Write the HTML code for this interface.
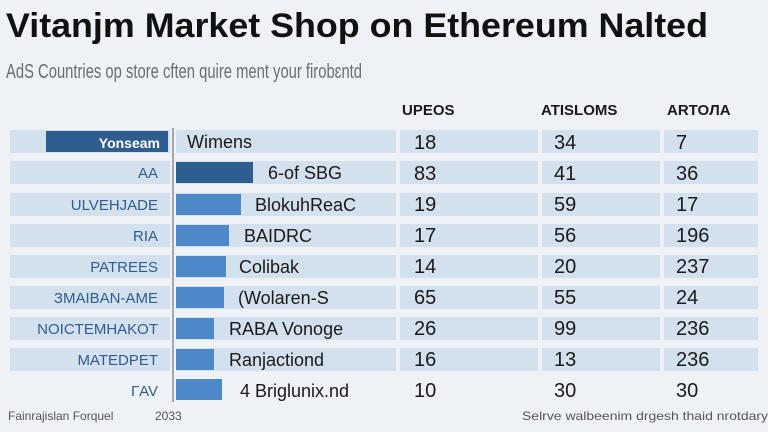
<!DOCTYPE html>
<html><head><meta charset="utf-8"><style>
html,body{margin:0;padding:0;background:#eef2f6;}
svg{display:block;font-family:"Liberation Sans",sans-serif;}
</style></head><body>
<svg width="768" height="432" viewBox="0 0 768 432">
<rect width="768" height="432" fill="#eef2f6"/>
<text x="6" y="37" font-size="34" font-weight="bold" fill="#111" textLength="702" lengthAdjust="spacingAndGlyphs">Vitanjm Market Shop on Ethereum Nalted</text>
<text x="6" y="78" font-size="20" fill="#6a6e74" textLength="356" lengthAdjust="spacingAndGlyphs">AdS Countries op store cften quire ment your firobɛntd</text>
<g font-size="15" font-weight="bold" fill="#1a1a1a">
<text x="402" y="115">UPEOS</text>
<text x="541" y="115">ATISLOMS</text>
<text x="667" y="115">ARTOЛA</text>
</g>
<g fill="#d3e0ee">
<rect x="10" y="130" width="160" height="23"/><rect x="176" y="130" width="220" height="23"/><rect x="400" y="130" width="138" height="23"/><rect x="542" y="130" width="118" height="23"/><rect x="664" y="130" width="94" height="23"/>
<rect x="10" y="161" width="160" height="23"/><rect x="176" y="161" width="220" height="23"/><rect x="400" y="161" width="138" height="23"/><rect x="542" y="161" width="118" height="23"/><rect x="664" y="161" width="94" height="23"/>
<rect x="10" y="193" width="160" height="23"/><rect x="176" y="193" width="220" height="23"/><rect x="400" y="193" width="138" height="23"/><rect x="542" y="193" width="118" height="23"/><rect x="664" y="193" width="94" height="23"/>
<rect x="10" y="224" width="160" height="23"/><rect x="176" y="224" width="220" height="23"/><rect x="400" y="224" width="138" height="23"/><rect x="542" y="224" width="118" height="23"/><rect x="664" y="224" width="94" height="23"/>
<rect x="10" y="255" width="160" height="23"/><rect x="176" y="255" width="220" height="23"/><rect x="400" y="255" width="138" height="23"/><rect x="542" y="255" width="118" height="23"/><rect x="664" y="255" width="94" height="23"/>
<rect x="10" y="286" width="160" height="23"/><rect x="176" y="286" width="220" height="23"/><rect x="400" y="286" width="138" height="23"/><rect x="542" y="286" width="118" height="23"/><rect x="664" y="286" width="94" height="23"/>
<rect x="10" y="317" width="160" height="23"/><rect x="176" y="317" width="220" height="23"/><rect x="400" y="317" width="138" height="23"/><rect x="542" y="317" width="118" height="23"/><rect x="664" y="317" width="94" height="23"/>
<rect x="10" y="348" width="160" height="23"/><rect x="176" y="348" width="220" height="23"/><rect x="400" y="348" width="138" height="23"/><rect x="542" y="348" width="118" height="23"/><rect x="664" y="348" width="94" height="23"/>
</g>
<line x1="173" y1="128" x2="173" y2="402" stroke="#8a8f96" stroke-width="1.5"/>
<rect x="46" y="131" width="122" height="21" fill="#2e5d90"/>
<g>
<rect x="176" y="162" width="77" height="21" fill="#2e5d90"/>
<rect x="176" y="194" width="65" height="21" fill="#4d89c8"/>
<rect x="176" y="225" width="53" height="21" fill="#4d89c8"/>
<rect x="176" y="256" width="50" height="21" fill="#4d89c8"/>
<rect x="176" y="287" width="48" height="21" fill="#4d89c8"/>
<rect x="176" y="318" width="38" height="21" fill="#4d89c8"/>
<rect x="176" y="349" width="38" height="21" fill="#4d89c8"/>
<rect x="176" y="379" width="46" height="21" fill="#4d89c8"/>
</g>
<text x="160" y="148" font-size="14" font-weight="bold" fill="#fff" text-anchor="end">Yonseam</text>
<g font-size="15" fill="#2e5d90" text-anchor="end">
<text x="158" y="178">AA</text>
<text x="158" y="210">ULVEHJADE</text>
<text x="158" y="241">RIA</text>
<text x="158" y="272">PATREES</text>
<text x="158" y="303">ЗМАІBAN-AME</text>
<text x="158" y="334">NOICTEMHAKOT</text>
<text x="158" y="365">MATEDPET</text>
<text x="158" y="396">ГAV</text>
</g>
<g font-size="18" fill="#1a1a1a">
<text x="187" y="148">Wimens</text>
<text x="268" y="179">6-of SBG</text>
<text x="255" y="211">BlokuhReaC</text>
<text x="244" y="242">BAIDRC</text>
<text x="239" y="273">Colibak</text>
<text x="238" y="304">(Wolaren-S</text>
<text x="229" y="335">RABA Vonoge</text>
<text x="229" y="366">Ranjactiond</text>
<text x="240" y="397">4 Briglunix.nd</text>
</g>
<g font-size="20" fill="#1a1a1a">
<text x="414" y="149">18</text><text x="554" y="149">34</text><text x="676" y="149">7</text>
<text x="414" y="180">83</text><text x="554" y="180">41</text><text x="676" y="180">36</text>
<text x="414" y="211">19</text><text x="554" y="211">59</text><text x="676" y="211">17</text>
<text x="414" y="242">17</text><text x="554" y="242">56</text><text x="676" y="242">196</text>
<text x="414" y="273">14</text><text x="554" y="273">20</text><text x="676" y="273">237</text>
<text x="414" y="304">65</text><text x="554" y="304">55</text><text x="676" y="304">24</text>
<text x="414" y="335">26</text><text x="554" y="335">99</text><text x="676" y="335">236</text>
<text x="414" y="366">16</text><text x="554" y="366">13</text><text x="676" y="366">236</text>
<text x="414" y="397">10</text><text x="554" y="397">30</text><text x="676" y="397">30</text>
</g>
<text x="8" y="420" font-size="12" fill="#555">Fainrajislan Forquel</text>
<text x="155" y="420" font-size="12" fill="#555">2033</text>
<text x="522" y="420" font-size="12" fill="#555" textLength="246" lengthAdjust="spacingAndGlyphs">Selrve walbeenim drgesh thaid nrotdary</text>
</svg>
</body></html>
